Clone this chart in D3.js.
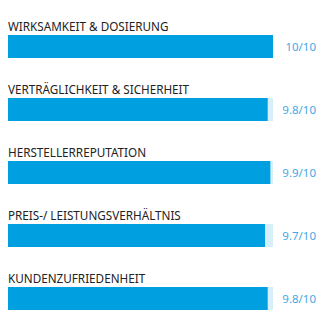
<!DOCTYPE html>
<html><head><meta charset="utf-8">
<script src="https://cdn.jsdelivr.net/npm/d3@7"></script>
<style>html,body{margin:0;padding:0;background:#fff;}svg{display:block;}</style>
</head><body>
<svg id="c" width="322" height="331"></svg>
<script>
const categories = ["WIRKSAMKEIT & DOSIERUNG","VERTRÄGLICHKEIT & SICHERHEIT","HERSTELLERREPUTATION","PREIS-/ LEISTUNGSVERHÄLTNIS","KUNDENZUFRIEDENHEIT"];
const scores = [10, 9.8, 9.9, 9.7, 9.8];
const maxScore = 10;
const valueLabels = ["10/10","9.8/10","9.9/10","9.7/10","9.8/10"];

const svg = d3.select("#c");
const x = d3.scaleLinear().domain([0, maxScore]).range([8, 273]);
const y = d3.scaleBand().domain(categories).range([15, 330]).paddingInner(0).paddingOuter(0);
const barH = 23, barOff = 20;

const g = svg.selectAll("g.row").data(categories).join("g").attr("class","row")
  .attr("transform", d => `translate(0,${y(d)})`);

g.append("rect").attr("x", x(0)).attr("y", barOff).attr("width", x(maxScore)-x(0)).attr("height", barH).attr("fill", "#d6effb");
g.append("rect").attr("x", x(0)).attr("y", barOff).attr("width", (d,i)=>x(scores[i])-x(0)).attr("height", barH).attr("fill", "#009fe0");
g.append("text").attr("x", 8).attr("y", barOff-4).text(d=>d)
  .attr("font-family","Noto Sans, sans-serif").attr("font-size", 11.7).attr("fill","#222");
g.append("text").attr("x", 316).attr("y", barOff+barH/2).attr("dy","0.35em").attr("text-anchor","end")
  .text((d,i)=>valueLabels[i]).attr("font-family","Noto Sans, sans-serif").attr("font-size", 11.5).attr("fill","#45a8e4");
</script>
</body></html>
